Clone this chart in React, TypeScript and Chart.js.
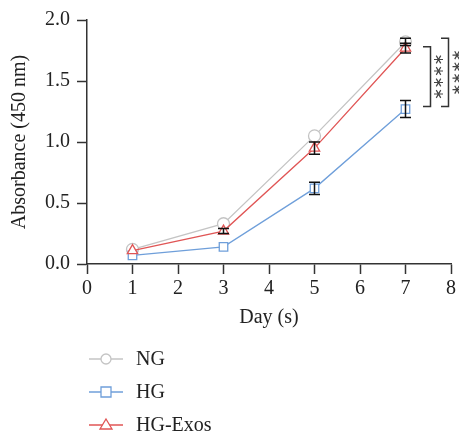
import React, { useEffect, useRef } from "react";
import { Chart, registerables } from "chart.js";

Chart.register(...registerables);

const days = [1, 3, 5, 7];
const seriesNames = ["NG", "HG", "HG-Exos"];
const ngValues = [0.12, 0.33, 1.05, 1.82];
const hgValues = [0.07, 0.14, 0.62, 1.27];
const exosValues = [0.11, 0.27, 0.95, 1.77];
const ngErrors = [0.01, 0.01, 0.01, 0.03];
const hgErrors = [0.01, 0.01, 0.05, 0.07];
const exosErrors = [0.01, 0.02, 0.05, 0.04];
const xTicks = [0, 1, 2, 3, 4, 5, 6, 7, 8];
const yTicks = [0, 0.5, 1.0, 1.5, 2.0];
const brackets = [
  { from: 1.78, to: 1.29, label: "****" },
  { from: 1.85, to: 1.29, label: "****" },
];

const colors = ["#c4c4c4", "#6f9fda", "#e05555"];
const pointStyles = ["circle", "rect", "triangle"];
const FONT = "'Liberation Serif', 'DejaVu Serif', serif";
const FS = 20;

export default function App() {
  const ref = useRef<HTMLCanvasElement>(null);
  useEffect(() => {
    document.body.style.margin = "0";
    const values = [ngValues, hgValues, exosValues];
    const errors = [ngErrors, hgErrors, exosErrors];
    const errorPlugin = {
      id: "errs",
      afterDatasetsDraw(chart: any) {
        const ctx = chart.ctx;
        const xs = chart.scales.x;
        const ys = chart.scales.y;
        ctx.save();
        ctx.strokeStyle = "#111";
        ctx.lineWidth = 1.5;
        values.forEach((vals, si) => {
          vals.forEach((v, i) => {
            const e = errors[si][i];
            const px = xs.getPixelForValue(days[i]);
            const top = ys.getPixelForValue(v + e);
            const bot = ys.getPixelForValue(v - e);
            if (bot - top < 4) return;
            ctx.beginPath();
            ctx.moveTo(px, top);
            ctx.lineTo(px, bot);
            ctx.moveTo(px - 5.5, top);
            ctx.lineTo(px + 5.5, top);
            ctx.moveTo(px - 5.5, bot);
            ctx.lineTo(px + 5.5, bot);
            ctx.stroke();
          });
        });
        // brackets
        ctx.strokeStyle = "#333";
        ctx.lineWidth = 1.5;
        const bx = [423, 441];
        brackets.forEach((b, k) => {
          const y1 = ys.getPixelForValue(b.from);
          const y2 = ys.getPixelForValue(b.to);
          const x0 = bx[k];
          ctx.beginPath();
          ctx.moveTo(x0, y1);
          ctx.lineTo(x0 + 7.5, y1);
          ctx.lineTo(x0 + 7.5, y2);
          ctx.lineTo(x0, y2);
          ctx.stroke();
          // stars, stacked vertically
          const cx = x0 + 12 + 3.5 + (k === 0 ? 0 : 0.5);
          const cy = (y1 + y2) / 2;
          const n = b.label.length;
          ctx.save();
          ctx.strokeStyle = "#444";
          ctx.lineWidth = 1.2;
          for (let j = 0; j < n; j++) {
            const sy = cy + (j - (n - 1) / 2) * 11.5;
            ctx.beginPath();
            for (let a = 0; a < 3; a++) {
              const ang = (a * Math.PI) / 3;
              const dx = Math.cos(ang) * 4.5;
              const dy = Math.sin(ang) * 4.5;
              ctx.moveTo(cx - dx, sy - dy);
              ctx.lineTo(cx + dx, sy + dy);
            }
            ctx.stroke();
          }
          ctx.restore();
        });
        // legend
        const ly = [359, 392, 425];
        seriesNames.forEach((name, si) => {
          const y = ly[si];
          ctx.strokeStyle = colors[si];
          ctx.lineWidth = 1.3;
          ctx.beginPath();
          ctx.moveTo(89, y);
          ctx.lineTo(123, y);
          ctx.stroke();
          ctx.fillStyle = "#fff";
          ctx.beginPath();
          if (si === 0) {
            ctx.arc(106, y, 5, 0, Math.PI * 2);
          } else if (si === 1) {
            ctx.rect(101, y - 5, 10, 10);
          } else {
            ctx.moveTo(106, y - 6);
            ctx.lineTo(112, y + 4);
            ctx.lineTo(100, y + 4);
            ctx.closePath();
          }
          ctx.fill();
          ctx.stroke();
          ctx.fillStyle = "#222";
          ctx.font = `${FS}px ${FONT}`;
          ctx.textAlign = "left";
          ctx.textBaseline = "middle";
          ctx.fillText(name, 136, y + 1);
        });
        ctx.restore();
      },
    };

    const chart = new Chart(ref.current!, {
      type: "line",
      data: {
        datasets: values.map((vals, si) => ({
          label: seriesNames[si],
          data: vals.map((v, i) => ({ x: days[i], y: v })),
          borderColor: colors[si],
          backgroundColor: "#fff",
          borderWidth: 1.3,
          pointStyle: pointStyles[si] as any,
          pointRadius: 6,
          pointBorderWidth: 1.3,
          pointBackgroundColor: "#fff",
          order: 3 - si,
        })),
      },
      options: {
        animation: false,
        responsive: false,
        layout: { padding: { top: 20, right: 6, left: 8, bottom: 112 } },
        plugins: { legend: { display: false }, tooltip: { enabled: false } },
        scales: {
          x: {
            type: "linear",
            min: 0,
            max: 8,
            afterBuildTicks: (s: any) => {
              s.ticks = xTicks.map((v) => ({ value: v }));
            },
            afterFit: (s: any) => {
              s.height = 66;
            },
            grid: { drawOnChartArea: false, tickLength: 10, tickColor: "#333", tickWidth: 1.5 },
            border: { color: "#333", width: 1.5 },
            ticks: { color: "#222", font: { family: FONT, size: FS }, padding: 3, maxRotation: 0 },
            title: {
              display: true,
              text: "Day (s)",
              color: "#222",
              font: { family: FONT, size: FS },
              padding: { top: 0, bottom: 0 },
            },
          },
          y: {
            min: 0,
            max: 2,
            afterBuildTicks: (s: any) => {
              s.ticks = yTicks.map((v) => ({ value: v }));
            },
            afterFit: (s: any) => {
              s.width = 79;
            },
            grid: { drawOnChartArea: false, tickLength: 10, tickColor: "#333", tickWidth: 1.5 },
            border: { color: "#333", width: 1.5 },
            ticks: {
              color: "#222",
              font: { family: FONT, size: FS },
              padding: 7,
              callback: (v: any) => Number(v).toFixed(1),
            },
            title: {
              display: true,
              text: "Absorbance (450 nm)",
              color: "#222",
              font: { family: FONT, size: FS },
              padding: { bottom: 0, top: 0 },
            },
          },
        },
      },
      plugins: [errorPlugin],
    });
    return () => chart.destroy();
  }, []);
  return <canvas ref={ref} width={459} height={442} style={{ display: "block" }} />;
}
